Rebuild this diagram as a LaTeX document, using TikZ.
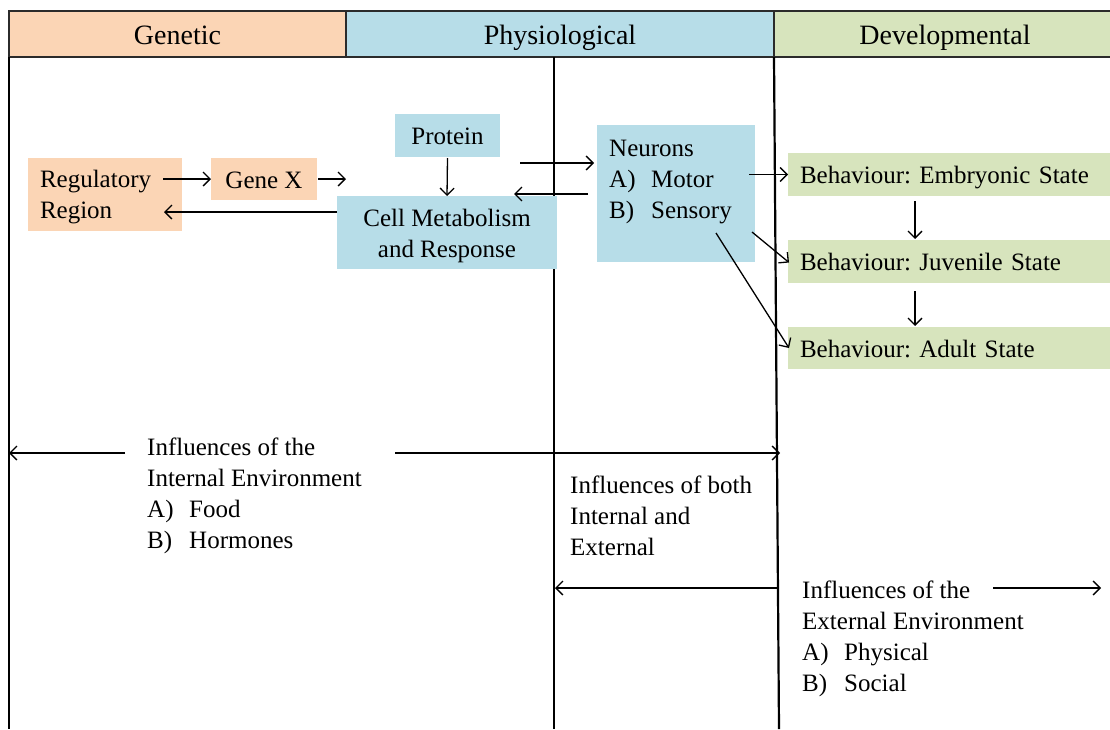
\documentclass[tikz,border=0pt]{standalone}
\usepackage{fontspec}
\setmainfont{Liberation Serif}
\usetikzlibrary{arrows.meta,calc}
\definecolor{peach}{HTML}{FBD5B5}
\definecolor{aqua}{HTML}{B7DDE8}
\definecolor{olivegreen}{HTML}{D7E4BD}
\definecolor{hdrline}{HTML}{2B2B2B}
\newcommand{\txtsz}{\fontsize{25}{31}\selectfont\frenchspacing}
\newcommand{\hdsz}{\fontsize{28}{32}\selectfont\frenchspacing}
\newcommand{\tabit}[1]{\makebox[42pt][l]{#1}}
\begin{document}
\begin{tikzpicture}[x=1pt,y=-1pt,
  hdr/.style={draw=hdrline, line width=1.3pt, font=\hdsz, inner sep=0pt, outer sep=0pt, anchor=north west, minimum height=46pt, text height=23pt, text depth=3pt},
  box/.style={draw=none, inner xsep=12pt, inner ysep=0pt, outer sep=0pt, font=\txtsz, anchor=north west},
  one/.style={text height=20pt, text depth=2pt},
  lbl/.style={inner sep=0pt, align=left, font=\txtsz, anchor=west},
  arr/.style={-{Straight Barb[length=7pt,width=14pt]}, line width=1.3pt},
  rule/.style={line width=1.3pt}]
\useasboundingbox (0,0) rectangle (1110,729);

% header
\node[hdr, fill=peach, minimum width=337pt] (hgen) at (9,11) {Genetic};
\node[hdr, fill=aqua, minimum width=428pt] (hphy) at (346,11) {Physiological};
\node[hdr, fill=olivegreen, minimum width=342pt] (hdev) at (774,11) {Developmental};

% column rules
\coordinate (lbot) at (9,729);
\coordinate (mtop) at (554,57);
\coordinate (mbot) at (554,729);
\coordinate (rbot) at (779,729);
\draw[rule] (hgen.south west) -- (lbot);
\draw[rule] (mtop) -- (mbot);
\draw[line width=2.2pt] (hdev.south west) -- (rbot);

% boxes
\node[box, fill=peach, minimum height=73pt, text width=130pt, align=left] (reg) at (28,158) {\rule{0pt}{23pt}Regulatory\\Region};
\node[box, one, fill=peach, minimum height=42pt, minimum width=106pt, inner xsep=0pt] (gene) at (211,158) {Gene X};
\node[box, one, fill=aqua, minimum height=43pt, minimum width=105pt, inner xsep=0pt] (protein) at (395,114) {Protein};
\node[box, fill=aqua, minimum height=73pt, minimum width=220pt, inner xsep=0pt, align=center] (cell) at (337,196) {\rule{0pt}{25pt}Cell Metabolism\\and Response};
\node[box, fill=aqua, minimum height=137pt, minimum width=158pt, inner xsep=0pt] (neurons) at (597,125) {};
\node[lbl] (neurtxt) at (609,182) {Neurons\\\tabit{A)}Motor\\\tabit{B)}Sensory};
\node[box, one, fill=olivegreen, minimum height=43pt, text width=306pt, align=left] (emb) at (788,153) {Behaviour: Embryonic State};
\node[box, one, fill=olivegreen, minimum height=43pt, text width=306pt, align=left] (juv) at (788,240) {Behaviour: Juvenile State};
\node[box, one, fill=olivegreen, minimum height=42pt, text width=306pt, align=left] (adult) at (788,327) {Behaviour: Adult State};

% arrows in the upper part
\draw[arr] ($(reg.east |- gene.west)+(-19,0)$) -- (gene.west);
\coordinate (gx) at (346,179);
\draw[arr] ($(gene.east)+(1,0)$) -- (gx);
\draw[arr] ($(protein.south)+(0,1)$) -- (cell.north);
\draw[arr] (cell.west |- 0,212) -- ($(reg.east |- 0,212)+(-18,0)$);
\coordinate (pn) at (520,163);
\coordinate (nc) at (514,194);
\draw[arr] (pn) -- ($(neurons.west |- pn)+(-3,0)$);
\draw[arr] ($(neurons.west |- nc)+(-9,0)$) -- (nc);
\draw[arr] ($(neurons.east |- emb.west)+(-6,0)$) -- (emb.west);
\draw[arr] ($(neurons.east)+(-3,38.5)$) -- ($(juv.west)+(1,1)$);
\draw[arr] ($(neurons.south east)+(-39,-29)$) -- ($(adult.west)+(1,0)$);
\draw[arr] ($(emb.south -| 915,0)+(0,5)$) -- ($(juv.north -| 915,0)+(0,-1)$);
\draw[arr] ($(juv.south -| 915,0)+(0,8)$) -- ($(adult.north -| 915,0)+(0,-1)$);

% lower texts
\node[lbl] (intxt) at (147,496) {Influences of the\\Internal Environment\\\tabit{A)}Food\\\tabit{B)}Hormones};
\node[lbl] (bothtxt) at (570,516) {Influences of both\\Internal and\\External};
\node[lbl] (exttxt) at (802,639) {Influences of the\\External Environment\\\tabit{A)}Physical\\\tabit{B)}Social};

% lower arrows
\coordinate (iL) at (9,453);
\coordinate (iLs) at (125,453);
\coordinate (iRs) at (395,453);
\coordinate (iR) at (780,453);
\draw[arr] (iLs) -- (iL);
\draw[arr] (iRs) -- (iR);
\coordinate (bL) at (555,588);
\coordinate (bR) at (778,588);
\draw[arr] (bR) -- (bL);
\coordinate (eS) at (993,588);
\coordinate (eE) at (1101,588);
\draw[arr] (eS) -- (eE);
\end{tikzpicture}
\end{document}
